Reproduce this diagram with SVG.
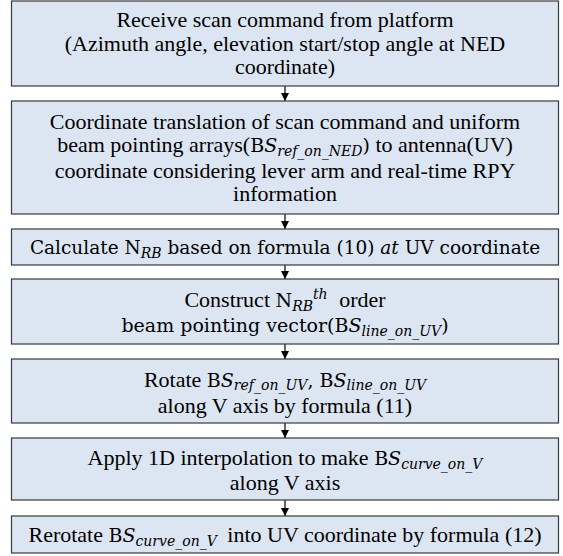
<svg xmlns="http://www.w3.org/2000/svg" width="563" height="556" viewBox="0 0 563 556">
<defs>
<style>
.box{fill:#dce6f2;stroke:#3a3a3a;stroke-width:1.2}
.t{font-family:"Liberation Serif","Times New Roman",serif;font-size:22px;fill:#000;text-anchor:middle}
.c{font-family:"DejaVu Serif",serif;font-size:19px;font-style:normal}
.ci{font-family:"DejaVu Serif",serif;font-size:19px;font-style:italic}
.s{font-family:"DejaVu Serif",serif;font-size:14px;font-style:italic}
.conn{stroke:#000;stroke-width:1.2;fill:none;marker-end:url(#ah)}
</style>
<marker id="ah" viewBox="0 0 8 8" refX="8" refY="4" markerWidth="8" markerHeight="8" orient="auto" markerUnits="userSpaceOnUse">
<path d="M0,0 L8,4 L0,8 z" fill="#000"/>
</marker>
</defs>
<rect width="563" height="556" fill="#fff"/>
<g id="connectors">
<line class="conn" x1="285" y1="86" x2="285" y2="101"/>
<line class="conn" x1="285" y1="214" x2="285" y2="229"/>
<line class="conn" x1="285" y1="265" x2="285" y2="279"/>
<line class="conn" x1="285" y1="344" x2="285" y2="359"/>
<line class="conn" x1="285" y1="423" x2="285" y2="438"/>
<line class="conn" x1="285" y1="500" x2="285" y2="516"/>
</g>
<g id="node1">
<rect class="box" x="11.5" y="1" width="547" height="85"/>
<text class="t" x="285" y="27">Receive scan command from platform</text>
<text class="t" x="285" y="50.5">(Azimuth angle, elevation start/stop angle at NED</text>
<text class="t" x="285" y="74">coordinate)</text>
</g>
<g id="node2">
<rect class="box" x="11.5" y="101" width="547" height="113"/>
<text class="t" x="285" y="128.5">Coordinate translation of scan command and uniform</text>
<text class="t" x="285" y="152">beam pointing arrays(<tspan class="c">B</tspan><tspan class="ci">S</tspan><tspan class="s" dy="3.5">ref_on_NED</tspan><tspan class="c" dy="-3.5">)</tspan> to antenna(UV)</text>
<text class="t" x="285" y="177.5">coordinate considering lever arm and real-time RPY</text>
<text class="t" x="285" y="201">information</text>
</g>
<g id="node3">
<rect class="box" x="11.5" y="229" width="547" height="36"/>
<text class="t c" x="285" y="254" style="font-size:18.5px">Calculate N<tspan class="s" dy="4">RB</tspan><tspan dy="-4"> based on formula (10) </tspan><tspan class="ci" style="font-size:18.5px">at</tspan> UV coordinate</text>
</g>
<g id="node4">
<rect class="box" x="11.5" y="279" width="547" height="65"/>
<text class="t" x="285" y="307">Construct <tspan class="c">N</tspan><tspan class="s" dy="4">RB</tspan><tspan class="s" dy="-12.5">th</tspan><tspan dy="8.5" dx="6"> order</tspan></text>
<text class="t c" x="285" y="331.5">beam pointing vector(B<tspan class="ci">S</tspan><tspan class="s" dy="4">line_on_UV</tspan><tspan dy="-4">)</tspan></text>
</g>
<g id="node5">
<rect class="box" x="11.5" y="359" width="547" height="64"/>
<text class="t" x="285" y="386.5">Rotate <tspan class="c">B</tspan><tspan class="ci">S</tspan><tspan class="s" dy="3.5">ref_on_UV</tspan><tspan class="c" dy="-3.5">, B</tspan><tspan class="ci">S</tspan><tspan class="s" dy="3.5">line_on_UV</tspan></text>
<text class="t" x="285" y="413">along V axis by formula (11)</text>
</g>
<g id="node6">
<rect class="box" x="11.5" y="438" width="547" height="62"/>
<text class="t" x="285" y="465">Apply 1D interpolation to make <tspan class="c">B</tspan><tspan class="ci">S</tspan><tspan class="s" dy="4">curve_on_V</tspan></text>
<text class="t" x="285" y="489.5">along V axis</text>
</g>
<g id="node7">
<rect class="box" x="11.5" y="516" width="547" height="37"/>
<text class="t" x="285" y="541.5">Rerotate <tspan class="c">B</tspan><tspan class="ci">S</tspan><tspan class="s" dy="4">curve_on_V</tspan><tspan dy="-4" dx="5"> into UV coordinate by formula (12)</tspan></text>
</g>
</svg>
